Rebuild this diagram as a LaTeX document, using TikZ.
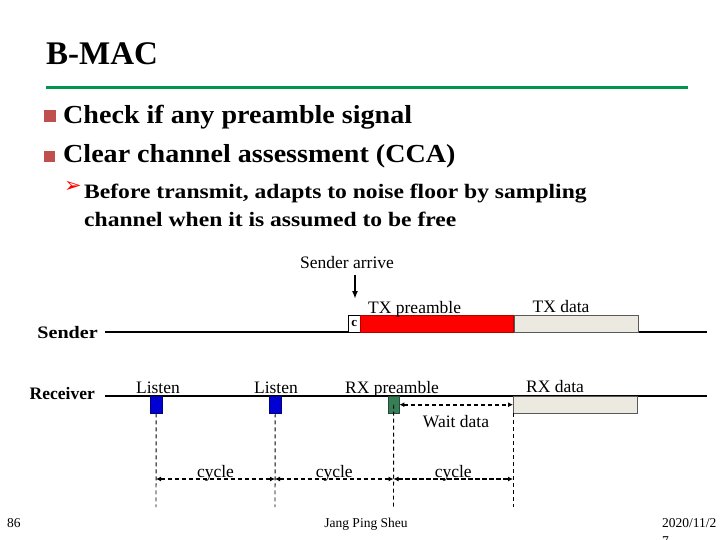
\documentclass[tikz,border=0pt]{standalone}
\usepackage{fontspec}
\setmainfont{Liberation Serif}
\newfontfamily\widefont[FakeStretch=1.08]{Liberation Serif}
\newfontfamily\subfont[FakeStretch=1.15]{Liberation Serif}
\newfontfamily\symfont{DejaVu Sans}
\usetikzlibrary{arrows.meta, positioning}
\definecolor{titlegreen}{RGB}{0,150,80}
\definecolor{bulletred}{RGB}{192,80,77}
\definecolor{prered}{RGB}{255,0,0}
\definecolor{listenblue}{RGB}{0,0,210}
\definecolor{rxgreen}{RGB}{55,125,85}
\definecolor{databeige}{RGB}{236,233,224}

\begin{document}
\begin{tikzpicture}[x=1pt, y=-1pt,
    lbl/.style={inner sep=0, font=\fontsize{17.5}{20}\selectfont},
    slot/.style={draw, inner sep=0, minimum height=17pt, anchor=north west},
    arr/.style={-{Latex[length=8pt, width=6pt]}, line width=1.6pt},
    guide/.style={dash pattern=on 4pt off 3pt, line width=0.9pt},
    cyc/.style={{Latex[length=5pt, width=5pt]}-{Latex[length=5pt, width=5pt]}, dash pattern=on 4.5pt off 2.5pt, line width=1.6pt}]
  \useasboundingbox (0,0) rectangle (720,540);
  % heading and bullets
  \node[anchor=base west, inner sep=0, font=\bfseries\fontsize{33}{36}\selectfont] (title) at (46,65) {B-MAC};
  \draw[titlegreen, line width=3pt] (46,88) -- (688,88);
  \node[fill=bulletred, minimum size=12pt, inner sep=0] (sq1) at (49.5,116.5) {};
  \node[anchor=base west, inner sep=0, font=\widefont\bfseries\fontsize{26}{30}\selectfont] (b1) at (63,124) {Check if any preamble signal};
  \node[fill=bulletred, minimum size=11pt, inner sep=0] (sq2) at (49.5,157) {};
  \node[anchor=base west, inner sep=0, font=\widefont\bfseries\fontsize{26}{30}\selectfont] (b2) at (63,163) {Clear channel assessment (CCA)};
  \node[anchor=base west, inner sep=0, text=red, font=\symfont\fontsize{21}{22}\selectfont] (tick) at (64,193) {➢};
  \node[anchor=base west, inner sep=0, align=left, font=\subfont\bfseries\fontsize{20.5}{28}\selectfont] (b3) at (84,226) {Before transmit, adapts to noise floor by sampling\\channel when it is assumed to be free};

  % sender row
  \node[anchor=base east, inner sep=0, font=\subfont\bfseries\fontsize{17.5}{20}\selectfont] (snd) at (98,338) {Sender};
  \coordinate (s0) at (105,332);
  \coordinate (s1) at (707,332);
  \draw[line width=1.2pt] (s0) -- (s1);
  \node[slot, fill=white, minimum width=12pt, font=\bfseries\fontsize{13}{14}\selectfont] (cca) at (348,315) {c};
  \node[slot, draw=red!70!black, fill=prered, minimum width=153pt, right=0pt of cca] (txpre) {};
  \node[slot, draw=gray!70!black, fill=databeige, minimum width=124pt, right=0pt of txpre] (txdat) {};
  \node[lbl, anchor=base west] (txprel) at (368,313) {TX preamble};
  \node[lbl, anchor=base] (txdatl) at (561,312) {TX data};
  \node[lbl, anchor=base] (arrive) at (347,268) {Sender arrive};
  \coordinate (tip) at (355,299);
  \draw[arr] ([yshift=-7pt]arrive.south -| tip) -- (tip);

  % receiver row
  \node[anchor=base east, inner sep=0, font=\bfseries\fontsize{17.5}{20}\selectfont] (rcv) at (95,399) {Receiver};
  \coordinate (r0) at (105,396);
  \coordinate (r1) at (707,396);
  \draw[line width=1.2pt] (r0) -- (r1);
  \node[slot, draw=blue!50!black, fill=listenblue, minimum width=12pt] (lis1) at (150,396) {};
  \node[slot, draw=blue!50!black, fill=listenblue, minimum width=12pt] (lis2) at (269,396) {};
  \node[slot, draw=rxgreen!60!black, fill=rxgreen, minimum width=11pt] (rxpre) at (388,396) {};
  \node[slot, draw=gray!70!black, fill=databeige, minimum width=124pt] (rxdat) at (513,396) {};
  \node[lbl, anchor=base] (lisl1) at (158,393) {Listen};
  \node[lbl, anchor=base] (lisl2) at (276,393) {Listen};
  \node[lbl, anchor=base] (rxprel) at (392,393) {RX preamble};
  \node[lbl, anchor=base] (rxdatl) at (555,392) {RX data};

  % wait and cycles
  \draw[cyc] (rxpre.east) -- (rxdat.west);
  \node[lbl, anchor=base] (waitl) at (456,427) {Wait data};
  \coordinate (g1) at (156,507);
  \coordinate (g2) at (275,507);
  \coordinate (g3) at (393.5,507);
  \coordinate (g4) at (513,507);
  \coordinate (cy) at (0,479);
  \draw[guide] (lis1.south) -- (g1);
  \draw[guide] (lis2.south) -- (g2);
  \draw[guide] (rxpre.center) -- (g3);
  \draw[guide] (rxdat.south west) -- (g4);
  \draw[cyc] (g1 |- cy) -- (g2 |- cy) node[lbl, midway, anchor=base, yshift=2pt] (cyl1) {cycle};
  \draw[cyc] (g2 |- cy) -- (g3 |- cy) node[lbl, midway, anchor=base, yshift=2pt] (cyl2) {cycle};
  \draw[cyc] (g3 |- cy) -- (g4 |- cy) node[lbl, midway, anchor=base, yshift=2pt] (cyl3) {cycle};

  % footer
  \node[anchor=base west, inner sep=0, font=\fontsize{13.5}{18}\selectfont] (pg) at (7,527) {86};
  \node[anchor=base, inner sep=0, font=\fontsize{13.5}{18}\selectfont] (auth) at (366,527) {Jang Ping Sheu};
  \node[anchor=base west, inner sep=0, align=left, font=\fontsize{13.5}{18}\selectfont] (date) at (662,545) {2020/11/2\\7};
\end{tikzpicture}
\end{document}
